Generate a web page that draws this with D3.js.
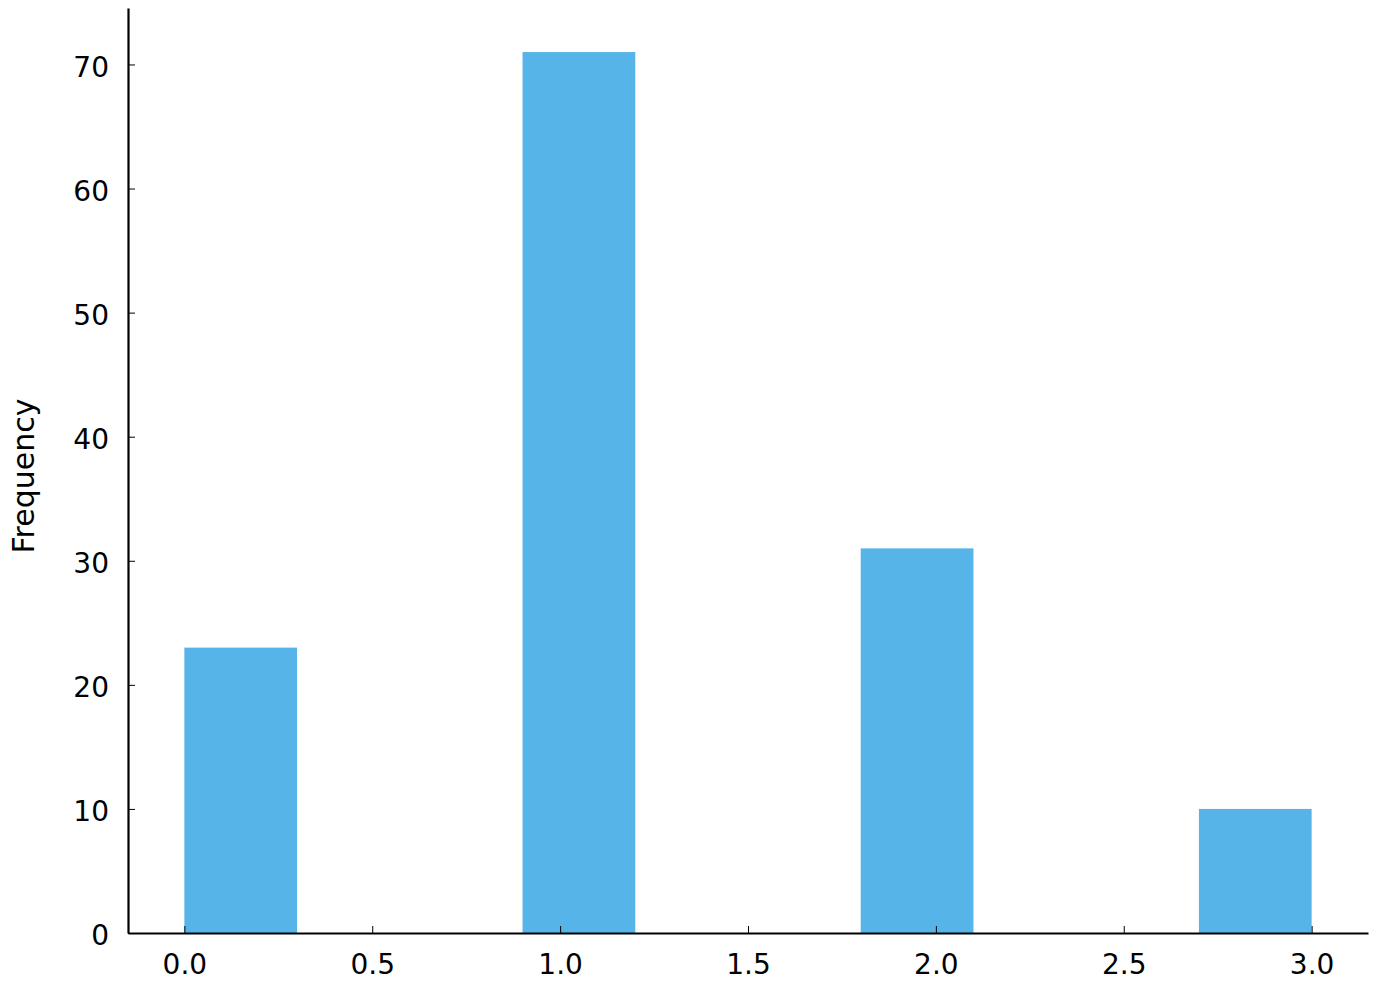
<!DOCTYPE html>
<html>
<head>
<meta charset="utf-8">
<script src="https://cdn.jsdelivr.net/npm/d3@7"></script>
<style>
  body { margin: 0; background: #fff; }
  text { font-family: "DejaVu Sans", sans-serif; fill: #000; }
</style>
</head>
<body>
<div id="chart"></div>
<script>
// histogram bins (10 bins over 0..3)
const binStarts = [0.0, 0.3, 0.6, 0.9, 1.2, 1.5, 1.8, 2.1, 2.4, 2.7]
const binWidth = 0.3
const counts = [23, 0, 0, 71, 0, 0, 31, 0, 0, 10]
const xTicks = [0, 0.5, 1, 1.5, 2, 2.5, 3]
const yTicks = [0, 10, 20, 30, 40, 50, 60, 70]

const W = 1377
const H = 989
const margin = { top: 8, right: 9, bottom: 56, left: 128 }

const svg = d3.select('#chart').append('svg')
  .attr('width', W)
  .attr('height', H)

const x = d3.scaleLinear().domain([-0.15, 3.15]).range([margin.left, W - margin.right])
const y = d3.scaleLinear().domain([0, 71 * 1.05]).range([H - margin.bottom, margin.top])

// BARS
svg.append('g').selectAll('rect').data(binStarts.map((s, i) => ({ s, c: counts[i] })))
  .enter().append('rect')
  .attr('x', (d) => x(d.s))
  .attr('width', (d) => x(d.s + binWidth) - x(d.s))
  .attr('y', (d) => y(d.c))
  .attr('height', (d) => y(0) - y(d.c))
  .attr('fill', '#56B4E9')

// AXES
const xAxis = svg.append('g')
  .attr('transform', `translate(0, ${y(0)})`)
  .call(d3.axisBottom(x).tickValues(xTicks).tickFormat(d3.format('.1f')).tickSizeInner(-7).tickSizeOuter(0).tickPadding(21))

const yAxis = svg.append('g')
  .attr('transform', `translate(${x(-0.15)}, 0)`)
  .call(d3.axisLeft(y).tickValues(yTicks).tickSizeInner(-7).tickSizeOuter(0).tickPadding(19))

yAxis.selectAll('.tick text').attr('dy', '0.42em')

for (const ax of [xAxis, yAxis]) {
  ax.select('.domain').attr('stroke', '#000').attr('stroke-width', 2.2)
  ax.selectAll('.tick line').attr('stroke', '#000').attr('stroke-width', 1)
  ax.selectAll('.tick text').attr('font-size', 28).attr('fill', '#000')
  ax.attr('font-family', null)
}

svg.append('text')
  .attr('transform', `translate(34, 476) rotate(-90)`)
  .attr('text-anchor', 'middle')
  .attr('font-size', 30)
  .text('Frequency')
</script>
</body>
</html>
